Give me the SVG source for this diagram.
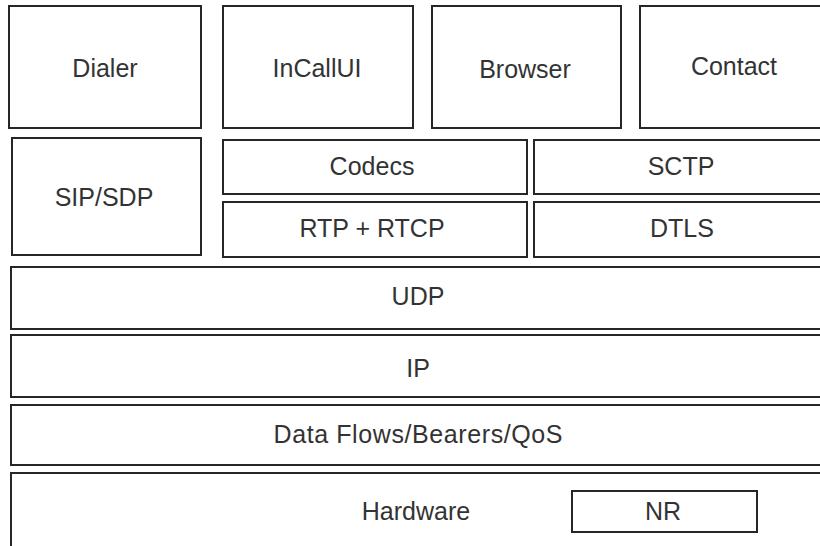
<svg xmlns="http://www.w3.org/2000/svg" width="820" height="546" viewBox="0 0 820 546">
<style>
.b{fill:#fff;stroke:#262626;stroke-width:2}
.t{font-family:"Liberation Sans",Arial,sans-serif;font-size:25px;fill:#333;text-anchor:middle}
</style>
<rect width="820" height="546" fill="#fff"/>
<g id="dialer"><rect class="b" x="9" y="6" width="192" height="122"/><text class="t" x="105" y="77">Dialer</text></g>
<g id="incallui"><rect class="b" x="223" y="6" width="190" height="122"/><text class="t" x="317" y="77">InCallUI</text></g>
<g id="browser"><rect class="b" x="432" y="6" width="189" height="122"/><text class="t" x="525" y="78">Browser</text></g>
<g id="contact"><rect class="b" x="640" y="6" width="188" height="122"/><text class="t" x="734" y="75">Contact</text></g>
<g id="sipsdp"><rect class="b" x="12" y="138" width="189" height="117"/><text class="t" x="104" y="206">SIP/SDP</text></g>
<g id="codecs"><rect class="b" x="223" y="140" width="304" height="54"/><text class="t" x="372" y="175">Codecs</text></g>
<g id="rtp"><rect class="b" x="223" y="202" width="304" height="55"/><text class="t" x="372" y="237">RTP + RTCP</text></g>
<g id="sctp"><rect class="b" x="534" y="140" width="294" height="54"/><text class="t" x="681" y="175">SCTP</text></g>
<g id="dtls"><rect class="b" x="534" y="202" width="294" height="55"/><text class="t" x="682" y="237">DTLS</text></g>
<g id="udp"><rect class="b" x="11" y="267" width="815" height="62"/><text class="t" x="418" y="305">UDP</text></g>
<g id="ip"><rect class="b" x="11" y="335" width="815" height="62"/><text class="t" x="418" y="377">IP</text></g>
<g id="dataflows"><rect class="b" x="11" y="405" width="815" height="60"/><text class="t" x="418" y="443" textLength="289" lengthAdjust="spacing">Data Flows/Bearers/QoS</text></g>
<g id="hardware"><rect class="b" x="11" y="473" width="815" height="90"/><text class="t" x="416" y="520">Hardware</text></g>
<g id="nr"><rect class="b" x="572" y="491" width="185" height="41"/><text class="t" x="663" y="520">NR</text></g>
<g id="connectors"/>
</svg>
